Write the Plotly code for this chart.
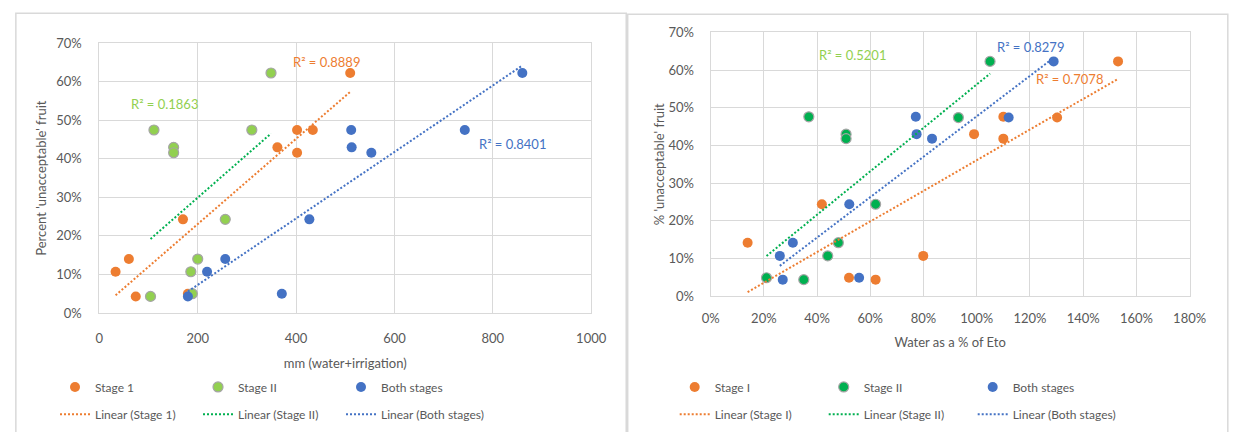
import numpy as np
import plotly.graph_objects as go

# ---------------- data: left chart (mm water+irrigation) ----------------
l_s1_x = [33, 60, 74, 170, 180, 362, 402, 402, 434, 510]
l_s1_y = [0.107, 0.140, 0.043, 0.243, 0.050, 0.430, 0.475, 0.416, 0.475, 0.623]
l_s2_x = [104, 111, 151, 151, 186, 189, 200, 256, 310, 349]
l_s2_y = [0.043, 0.475, 0.430, 0.416, 0.107, 0.050, 0.140, 0.243, 0.475, 0.623]
l_bs_x = [180, 219, 256, 371, 427, 512, 513, 553, 743, 860]
l_bs_y = [0.043, 0.107, 0.140, 0.050, 0.243, 0.475, 0.430, 0.416, 0.475, 0.623]
l_r2 = ["R² = 0.8889", "R² = 0.1863", "R² = 0.8401"]
l_r2_pos_x = [462, 133, 840]
l_r2_pos_y = [0.652, 0.543, 0.4375]

# ---------------- data: right chart (water as % of Eto) ----------------
r_s1_x = [0.139, 0.418, 0.520, 0.620, 0.799, 0.990, 1.100, 1.100, 1.302, 1.531]
r_s1_y = [0.142, 0.244, 0.049, 0.044, 0.107, 0.430, 0.476, 0.418, 0.474, 0.623]
r_s2_x = [0.210, 0.369, 0.350, 0.440, 0.480, 0.509, 0.509, 0.620, 0.931, 1.050]
r_s2_y = [0.049, 0.476, 0.044, 0.107, 0.142, 0.430, 0.418, 0.244, 0.474, 0.623]
r_bs_x = [0.260, 0.271, 0.309, 0.521, 0.558, 0.771, 0.774, 0.832, 1.120, 1.289]
r_bs_y = [0.107, 0.044, 0.142, 0.244, 0.049, 0.476, 0.430, 0.418, 0.474, 0.623]
r_r2 = ["R² = 0.7078", "R² = 0.5201", "R² = 0.8279"]
r_r2_pos_x = [1.349, 0.534, 1.201]
r_r2_pos_y = [0.576, 0.641, 0.661]

left_names = ["Stage 1", "Stage II", "Both stages"]
right_names = ["Stage I", "Stage II", "Both stages"]

ORANGE = "#ED7D31"
BLUE = "#4472C4"
LGREEN = "#92D050"
DGREEN = "#00B050"
GRID = "#D9D9D9"
TXT = "#595959"
FONT = "Lato"

W, H = 1236, 432


def px_x(v):
    return v / W


def px_y(v):
    return 1 - v / H


def trend(x, y):
    k, b = np.polyfit(x, y, 1)
    xs = np.array([min(x), max(x)])
    return xs, k * xs + b


fig = go.Figure()


def add_set(xs, ys, names, fills, outlines, tcolors, xa, ya, leg1, leg2):
    for x, y, n, f, o in zip(xs, ys, names, fills, outlines):
        fig.add_trace(go.Scatter(
            x=x, y=y, mode="markers", name=n, xaxis=xa, yaxis=ya, legend=leg1,
            marker=dict(size=10, color=f, line=dict(color=o, width=1.2 if o != f else 0)),
            hoverinfo="x+y"))
    for x, y, n, c in zip(xs, ys, names, tcolors):
        tx, ty = trend(x, y)
        fig.add_trace(go.Scatter(
            x=tx, y=ty, mode="lines", name=f"Linear ({n})", xaxis=xa, yaxis=ya, legend=leg2,
            line=dict(color=c, width=2, dash="2px,2px"), hoverinfo="skip"))


add_set([l_s1_x, l_s2_x, l_bs_x], [l_s1_y, l_s2_y, l_bs_y], left_names,
        [ORANGE, LGREEN, BLUE], [ORANGE, "#A5A5A5", BLUE], [ORANGE, DGREEN, BLUE],
        "x", "y", "legend", "legend2")
add_set([r_s1_x, r_s2_x, r_bs_x], [r_s1_y, r_s2_y, r_bs_y], right_names,
        [ORANGE, DGREEN, BLUE], [ORANGE, "#A5A5A5", BLUE], [ORANGE, DGREEN, BLUE],
        "x2", "y2", "legend3", "legend4")

# R² labels
for t, x, y, c in zip(l_r2, l_r2_pos_x, l_r2_pos_y, [ORANGE, LGREEN, BLUE]):
    fig.add_annotation(x=x, y=y, xref="x", yref="y", text=t, showarrow=False,
                       font=dict(family=FONT, size=13, color=c))
for t, x, y, c in zip(r_r2, r_r2_pos_x, r_r2_pos_y, [ORANGE, LGREEN, BLUE]):
    fig.add_annotation(x=x, y=y, xref="x2", yref="y2", text=t, showarrow=False,
                       font=dict(family=FONT, size=13, color=c))

axis_common = dict(showgrid=True, gridcolor=GRID, gridwidth=1, zeroline=False,
                   showline=True, linecolor=GRID, linewidth=1, mirror=True,
                   tickfont=dict(family=FONT, size=13, color=TXT), ticks="",
                   title_font=dict(family=FONT, size=13, color=TXT))

fig.update_layout(
    width=W, height=H, margin=dict(l=0, r=0, t=0, b=0),
    paper_bgcolor="white", plot_bgcolor="white", showlegend=True,
    xaxis=dict(domain=[px_x(92.3), px_x(594.7)], range=[0, 1000], dtick=200,
               anchor="y", title_text="mm (water+irrigation)", title_standoff=14,
               ticklabelstandoff=13, **axis_common),
    yaxis=dict(domain=[px_y(316.7), px_y(36.7)], range=[0, 0.7], dtick=0.1, tickformat=".0%",
               anchor="x", title_text="Percent 'unacceptable' fruit", title_standoff=6,
               ticklabelstandoff=14, **axis_common),
    xaxis2=dict(domain=[px_x(716.7), px_x(1206)], range=[0, 1.8], dtick=0.2, tickformat=".0%",
                anchor="y2", title_text="Water as a % of Eto", title_standoff=13,
                ticklabelstandoff=10, **axis_common),
    yaxis2=dict(domain=[px_y(299.3), px_y(25.3)], range=[0, 0.7], dtick=0.1, tickformat=".0%",
                anchor="x2", title_text="% 'unacceptable' fruit", title_standoff=0,
                ticklabelstandoff=13, **axis_common),
)

leg_common = dict(orientation="h", xanchor="left", yanchor="middle", bgcolor="rgba(0,0,0,0)",
                  font=dict(family=FONT, size=12, color=TXT), entrywidthmode="pixels",
                  itemclick=False, itemdoubleclick=False, tracegroupgap=0)
fig.update_layout(
    legend=dict(x=px_x(47), y=px_y(393.5), entrywidth=98, **leg_common),
    legend2=dict(x=px_x(47), y=px_y(422), entrywidth=98, **leg_common),
    legend3=dict(x=px_x(680), y=px_y(393.5), entrywidth=104, **leg_common),
    legend4=dict(x=px_x(680), y=px_y(422), entrywidth=104, **leg_common),
)

# panel borders
border = dict(color=GRID, width=1.5)
fig.add_shape(type="rect", xref="paper", yref="paper", x0=px_x(7), x1=px_x(630.5),
              y0=px_y(445), y1=px_y(5.5), line=border, layer="below")
fig.add_shape(type="rect", xref="paper", yref="paper", x0=px_x(632), x1=px_x(1245),
              y0=px_y(445), y1=px_y(6.5), line=border, layer="below")

fig.write_html("out.html")
